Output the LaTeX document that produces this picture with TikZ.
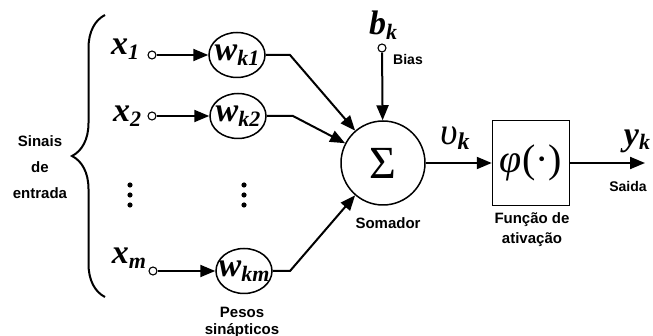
\documentclass[tikz,border=0pt]{standalone}
\usepackage{fontspec}
\setmainfont{Liberation Serif}
\setsansfont{Liberation Sans}
\usetikzlibrary{arrows.meta, positioning, shapes.geometric, decorations.pathreplacing}

% bold italic symbol with subscript
\newcommand{\symb}[2]{{\bfseries\itshape\fontsize{34}{34}\selectfont #1\raisebox{-0.3ex}{\fontsize{22}{22}\selectfont #2}}}

\tikzset{
  weight/.style={draw, ellipse, line width=1.5pt, minimum width=56pt, minimum height=45pt, inner sep=0pt},
  term/.style={draw, circle, line width=1.1pt, minimum size=8pt, inner sep=0pt, fill=white},
  lbl/.style={font=\sffamily\bfseries\fontsize{15}{17}\selectfont, align=center, inner sep=0pt},
  wire/.style={line width=2pt},
  conn/.style={wire, -{Triangle[length=15pt, width=12pt]}},
}

\begin{document}
\begin{tikzpicture}[x=1pt, y=-1pt]
  \useasboundingbox (0,0) rectangle (653,336);

  % input signals
  \node[lbl, font=\sffamily\bfseries\fontsize{15}{26}\selectfont] (sinais) at (40,167) {Sinais\\de\\entrada};
  \draw[line width=2pt, decorate, decoration={brace, amplitude=33pt}] (105,297) -- (105,15);

  \node (x1) at (125,49) {\symb{x}{1}};
  \node (x2) at (127,116) {\symb{x}{2}};
  \node (xm) at (129,258) {\symb{x}{m}};
  \node[term] (t1) at (152,55) {};
  \node[term] (t2) at (152,116) {};
  \node[term] (tm) at (153,271) {};

  % synaptic weights
  \node[weight, label={center:\symb{w}{k1}}] (w1) at (237,55) {};
  \node[weight, label={center:\symb{w}{k2}}] (w2) at (238,116) {};
  \node[weight, label={center:\symb{w}{km}}] (wm) at (244,271) {};
  \node[lbl] (pesos) at (242,322) {Pesos\\sinápticos};

  \foreach \dx in {130,244}
    \foreach \dy in {185,195,205}
      \fill (\dx,\dy) circle (2.6);

  \draw[conn] (t1) -- (w1);
  \draw[conn] (t2) -- (w2);
  \draw[conn] (tm) -- (wm);

  % summing junction
  \node[draw, circle, line width=1.5pt, minimum size=84pt, inner sep=0pt] (sum) at (383,163)
    {\fontsize{46}{46}\selectfont Σ};
  \node[lbl] (somador) at (388,223) {Somador};

  \coordinate (k1) at (290,55);
  \coordinate (k2) at (293,116);
  \coordinate (km) at (290,271);
  \draw[conn] (w1.east) -- (k1) -- (sum);
  \draw[conn] (w2.east) -- (k2) -- (sum);
  \draw[conn] (wm.east) -- (km) -- (sum);

  % bias
  \node (bk) at (383,25) {\symb{b}{k}};
  \node[term] (tb) at (382,48) {};
  \node[lbl, font=\sffamily\bfseries\fontsize{14}{16}\selectfont] (bias) at (408,60) {Bias};
  \draw[conn] (tb) -- (sum);

  % activation function
  \node[draw, rectangle, line width=1.5pt, minimum width=77pt, minimum height=85pt, inner sep=0pt] (phi) at (531,163)
    {\fontsize{40}{40}\selectfont\itshape φ\upshape(·)};
  \node[lbl, font=\sffamily\bfseries\fontsize{15}{20}\selectfont] (funcao) at (532,230) {Função de\\ativação};
  \node (vk) at (455,138) {{\itshape\fontsize{38}{38}\selectfont υ\raisebox{-0.3ex}{\bfseries\fontsize{24}{24}\selectfont k}}};
  \draw[conn] (sum) -- (phi);

  % output
  \coordinate (out) at (645,163);
  \node (yk) at (637,141) {\symb{y}{k}};
  \node[lbl, font=\sffamily\bfseries\fontsize{14}{16}\selectfont] (saida) at (628,186) {Saida};
  \draw[conn] (phi) -- (out);
\end{tikzpicture}
\end{document}
